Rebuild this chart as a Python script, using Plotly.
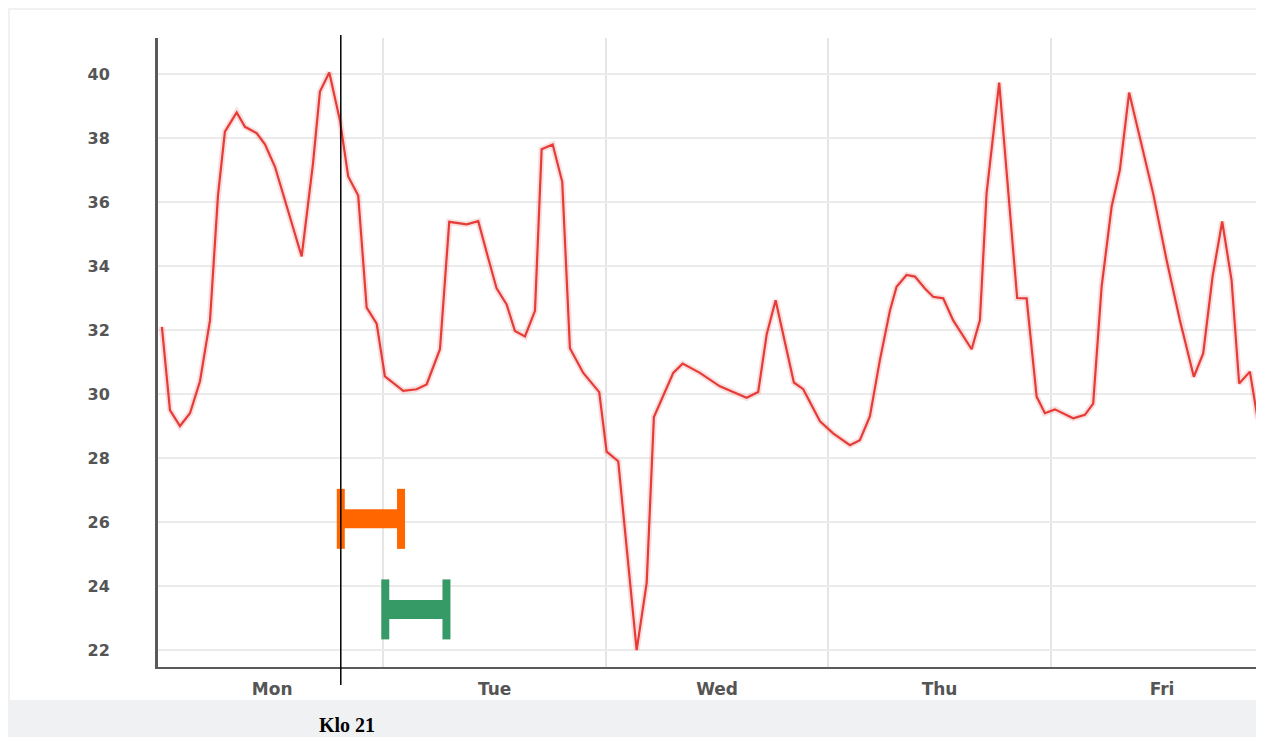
import plotly.graph_objects as go

# ---- data ----
hours = [0.1, 0.97, 2.05, 3.13, 4.21, 5.29, 6.15, 6.9, 8.17, 9.06,
         10.32, 11.22, 12.3, 13.56, 15.18, 16.4, 17.15, 18.16, 19.31, 20.2,
         21.28, 22.19, 23.27, 24.16, 26.14, 27.58, 28.66, 30.1, 31.1, 32.98,
         34.23, 35.31, 36.21, 37.29, 38.19, 39.27, 40.35, 41.07, 42.26, 43.29,
         44.12, 45.56, 47.28, 48.08, 49.33, 51.32, 52.4, 53.18, 54.19, 55.27,
         56.28, 58.14, 60.3, 63.18, 64.43, 65.34, 66.31, 67.31, 68.28, 69.29,
         71.1, 72.52, 74.33, 75.4, 76.48, 77.56, 78.64, 79.36, 80.44, 81.34,
         82.42, 83.31, 84.39, 85.47, 87.46, 88.35, 89.07, 90.43, 91.23, 92.37,
         93.39, 94.47, 95.36, 96.44, 98.41, 99.68, 100.57, 101.48, 102.56, 103.45,
         104.45, 105.61, 107.04, 108.49, 109.92, 111.43, 112.44, 113.45, 114.49, 115.5,
         116.32, 117.48, 118.27, 118.91]
temps = [32.1, 29.5, 29.0, 29.4, 30.4, 32.3, 36.2, 38.2, 38.8, 38.35,
         38.15, 37.8, 37.1, 35.85, 34.3, 37.2, 39.45, 40.05, 38.55, 36.8,
         36.2, 32.7, 32.2, 30.55, 30.1, 30.15, 30.3, 31.4, 35.38, 35.3,
         35.4, 34.24, 33.3, 32.8, 31.97, 31.8, 32.6, 37.65, 37.8, 36.63,
         31.43, 30.66, 30.06, 28.2, 27.9, 22.0, 24.1, 29.28, 29.94, 30.66,
         30.95, 30.66, 30.24, 29.88, 30.06, 31.85, 32.93, 31.6, 30.36, 30.15,
         29.15, 28.77, 28.4, 28.56, 29.3, 31.06, 32.6, 33.35, 33.72, 33.67,
         33.3, 33.04, 32.99, 32.3, 31.4, 32.3, 36.27, 39.73, 37.0, 33.0,
         32.99, 29.92, 29.4, 29.52, 29.24, 29.35, 29.7, 33.35, 35.85, 37.0,
         39.42, 38.04, 36.27, 34.19, 32.31, 30.54, 31.27, 33.67, 35.39, 33.56,
         30.33, 30.7, 29.3, 29.03]

day_labels = ["Mon", "Tue", "Wed", "Thu", "Fri"]
day_centers = [12, 36, 60, 84, 108]
day_bounds = [24, 48, 72, 96]
y_ticks = [22, 24, 26, 28, 30, 32, 34, 36, 38, 40]

marker_hour = 19.4
marker_label = "Klo 21"

interval_starts = [19.4, 24.2]
interval_ends = [25.9, 30.8]
interval_levels = [26.1, 23.27]
interval_colors = ["#ff6600", "#359a66"]

# ---- figure ----
fig = go.Figure()

# soft halo under the line
fig.add_trace(go.Scatter(x=hours, y=temps, mode="lines",
                         line=dict(color="rgba(225,90,90,0.2)", width=6),
                         hoverinfo="skip", showlegend=False))
fig.add_trace(go.Scatter(x=hours, y=temps, mode="lines",
                         line=dict(color="#e63c38", width=2.2),
                         showlegend=False))

shapes = []
# white panel on the gray frame
shapes.append(dict(type="rect", xref="paper", yref="paper",
                   x0=-0.1338, x1=1.01, y0=-0.0525, y1=1.0445,
                   fillcolor="white", line=dict(width=0), layer="below"))

# interval "H" markers
for s, e, lv, c in zip(interval_starts, interval_ends, interval_levels, interval_colors):
    shapes.append(dict(type="rect", xref="x", yref="y", x0=s, x1=e,
                       ysizemode="pixel", yanchor=lv, y0=-9.5, y1=9.5,
                       fillcolor=c, line=dict(width=0)))
    for xe in (s, e):
        shapes.append(dict(type="rect", xref="x", yref="y",
                           xsizemode="pixel", xanchor=xe, x0=-4, x1=4,
                           ysizemode="pixel", yanchor=lv, y0=-30, y1=30,
                           fillcolor=c, line=dict(width=0)))

# vertical black marker line
shapes.append(dict(type="line", xref="x", yref="paper",
                   x0=marker_hour, x1=marker_hour, y0=-0.0286, y1=1.0048,
                   line=dict(color="black", width=1.5)))

fig.update_layout(
    width=1256, height=729,
    margin=dict(l=150, r=0, t=30, b=70),
    paper_bgcolor="#f0f1f3",
    plot_bgcolor="rgba(0,0,0,0)",
    shapes=shapes,
    showlegend=False,
    font=dict(family="DejaVu Sans", color="#555555"),
    annotations=[dict(x=marker_hour, xref="x", y=-0.0925, yref="paper",
                      text="<b>" + marker_label + "</b>", showarrow=False,
                      xanchor="center", yanchor="middle", xshift=6,
                      font=dict(family="Liberation Serif", size=20, color="black"))],
)

fig.update_xaxes(
    range=[-0.32, 119.0],
    tickmode="array", tickvals=day_centers, ticktext=day_labels,
    showgrid=False, zeroline=False,
    showline=True, linecolor="#5a5a5a", linewidth=2,
    ticks="", ticklabelstandoff=6,
    tickfont=dict(family="DejaVu Sans", size=17, color="#555555", weight="bold"),
    minor=dict(tickmode="array", tickvals=day_bounds, showgrid=True,
               gridcolor="#e4e5e8", gridwidth=2, ticks=""),
)
fig.update_yaxes(
    range=[21.47, 41.125],
    tickmode="array", tickvals=y_ticks,
    showgrid=True, gridcolor="#ebebeb", gridwidth=1.5, zeroline=False,
    showline=True, linecolor="#5a5a5a", linewidth=3,
    ticks="", ticklabelstandoff=42,
    tickfont=dict(family="DejaVu Sans", size=16, color="#555555", weight="bold"),
)

fig.write_html("out.html")
